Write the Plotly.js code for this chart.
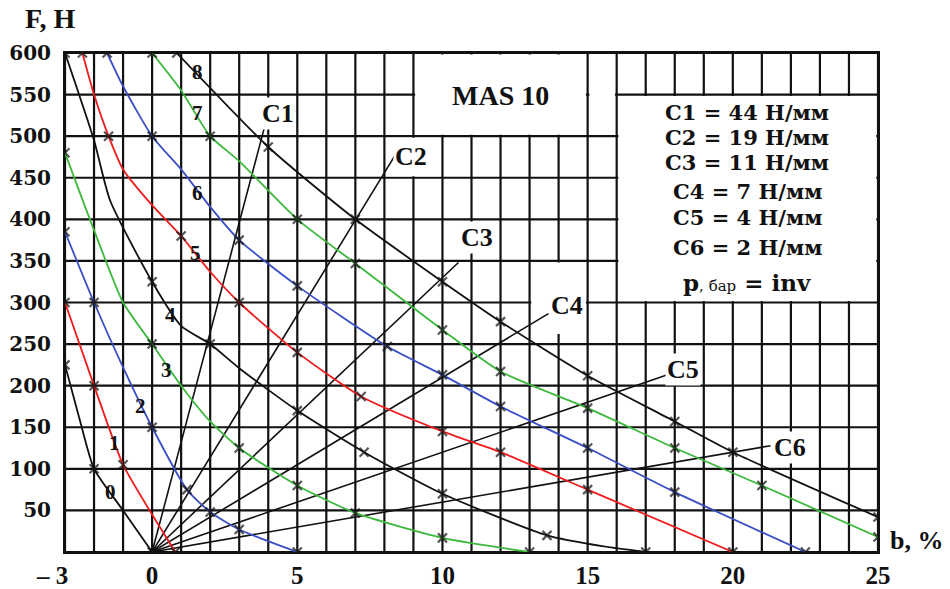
<!DOCTYPE html>
<html>
<head>
<meta charset="utf-8">
<script src="https://cdn.plot.ly/plotly-3.0.1.min.js"></script>
<style>
  html, body { margin: 0; padding: 0; background: #fff; }
  #chart { width: 950px; height: 589px; }
</style>
</head>
<body>
<div id="chart"></div>
<script>
// MAS 10 fluidic muscle: force F (N) against contraction b (%) for supply pressures 0…8 bar.
// *M arrays flag the measured points (1) that carry an "x" marker.
const p0X = [-3, -2.5, -2, -1, 0];
const p0Y = [225, 160, 100, 50, 0];
const p0M = [1, 0, 1, 0, 1];

const p1X = [-3, -2, -1, 0, 0.8];
const p1Y = [300, 200, 105, 45, 0];
const p1M = [1, 1, 1, 0, 1];

const p2X = [-3, -2, -1, 0, 1.2, 2, 3, 5];
const p2Y = [385, 300, 222, 150, 75, 48, 27, 0];
const p2M = [1, 1, 0, 1, 1, 1, 1, 1];

const p3X = [-3, -2, -1, 0, 1, 2, 3, 5, 7, 10, 13];
const p3Y = [480, 387, 300, 250, 200, 157, 125, 80, 47, 17, 0];
const p3M = [1, 0, 0, 1, 0, 0, 1, 1, 1, 1, 1];

const p4X = [-3, -2, -1.45, 0, 1, 2, 3, 5, 7.3, 10, 13.6, 15.5, 17];
const p4Y = [600, 495, 423, 325, 272, 250, 221, 170, 120, 70, 20, 7, 0];
const p4M = [1, 0, 0, 1, 0, 1, 0, 1, 1, 1, 1, 0, 1];

const p5X = [-2.4, -2, -1.5, -1, 0, 1, 2, 3, 5, 7.2, 10, 12, 15, 20];
const p5Y = [600, 550, 500, 460, 417, 380, 337, 300, 240, 187, 145, 120, 75, 0];
const p5M = [1, 0, 1, 0, 0, 1, 0, 1, 1, 1, 1, 1, 1, 1];

const p6X = [-1.55, -1, 0, 1, 2, 3, 5, 8.1, 10, 12, 15, 18, 22.5];
const p6Y = [600, 560, 500, 460, 415, 375, 320, 247, 213, 175, 125, 72, 0];
const p6M = [1, 0, 1, 0, 0, 1, 1, 1, 1, 1, 1, 1, 1];

const p7X = [0, 1, 2, 3, 5, 7, 10, 12, 15, 18, 21, 25];
const p7Y = [600, 555, 500, 470, 400, 347, 267, 217, 173, 125, 80, 18];
const p7M = [1, 0, 1, 0, 1, 1, 1, 1, 1, 1, 1, 1];

const p8X = [0.85, 4, 7, 10, 12, 15, 18, 20, 25];
const p8Y = [600, 487, 400, 325, 277, 212, 157, 120, 42];
const p8M = [1, 1, 1, 1, 1, 1, 1, 1, 1];

const pressureNames = ['0', '1', '2', '3', '4', '5', '6', '7', '8'];

// Spring load lines C1…C6 (N/mm) over a 300 mm working length, drawn from b = 0
const springNames = ['C1', 'C2', 'C3', 'C4', 'C5', 'C6'];
const springRate = [44, 19, 11, 7, 4, 2];
const springEndB = [3.95, 8.35, 10.55, 13.65, 17.7, 21.3];
const workingLength = 300;

// Axis ticks
const xTickVals = [-3, 0, 5, 10, 15, 20, 25];
const xTickText = ['\u2013\u00a03\u00a0\u00a0\u00a0\u00a0', '0', '5', '10', '15', '20', '25'];
const yTickVals = [50, 100, 150, 200, 250, 300, 350, 400, 450, 500, 550, 600];

// ---------------------------------------------------------------------------
const curves = [
  [p0X, p0Y, p0M], [p1X, p1Y, p1M], [p2X, p2Y, p2M], [p3X, p3Y, p3M],
  [p4X, p4Y, p4M], [p5X, p5Y, p5M], [p6X, p6Y, p6M], [p7X, p7Y, p7M],
  [p8X, p8Y, p8M]
];
const palette = ['#111111', '#ee1c1c', '#3a4fc4', '#3cb83c'];

const traces = [];

// spring lines first so the pressure curves sit on top
springRate.forEach((c, i) => {
  const k = c * workingLength / 100;      // N per % contraction
  traces.push({
    type: 'scatter', mode: 'lines',
    x: [0, springEndB[i]], y: [0, k * springEndB[i]],
    line: { color: '#111', width: 1.6 },
    hoverinfo: 'skip', showlegend: false
  });
});

curves.forEach(([xs, ys, ms], i) => {
  traces.push({
    type: 'scatter', mode: 'lines+markers', name: pressureNames[i],
    x: xs, y: ys,
    line: { color: palette[i % 4], width: 1.8, shape: 'spline', smoothing: 0.6 },
    marker: {
      symbol: 'x-thin', size: ms.map(f => f ? 9 : 0),
      color: '#111', line: { color: '#111', width: 2.2 }
    },
    showlegend: false
  });
});

// grid: every 1 % and every 50 N
const shapes = [];
const gridLine = { color: '#111', width: 2.2 };
for (let v = -3; v <= 25; v++) {
  shapes.push({ type: 'line', layer: 'below', xref: 'x', yref: 'y', x0: v, x1: v, y0: 0, y1: 600, line: gridLine });
}
for (let h = 0; h <= 600; h += 50) {
  shapes.push({ type: 'line', layer: 'below', xref: 'x', yref: 'y', x0: -3, x1: 25, y0: h, y1: h, line: gridLine });
}
// blank panels inside the grid (title panel, rate table, label cells)
function blank(x0, x1, y0, y1) {
  shapes.push({ type: 'rect', layer: 'below', xref: 'x', yref: 'y', x0, x1, y0, y1,
                fillcolor: '#fff', line: { width: 0 } });
}
blank(9.06, 14.94, 501.8, 598.2);
blank(15.06, 15.94, 501.8, 598.2);
blank(16.06, 24.94, 301.8, 548.2);
blank(8.06, 9.94, 451.8, 498.2);
blank(13.06, 14.94, 262, 348.2);

// annotations
const serifB = 'Liberation Serif';
const wide = 'DejaVu Serif';
const ann = [];

const numX = [-1.45, -1.28, -0.41, 0.5, 0.62, 1.48, 1.55, 1.55, 1.55];
const numY = [72, 131, 175, 219, 285, 360, 432, 528, 577];
pressureNames.forEach((t, i) => ann.push({
  x: numX[i], y: numY[i], xref: 'x', yref: 'y', text: t, showarrow: false,
  font: { family: serifB, size: 21, weight: 'bold', color: '#111' }
}));

const cLabX = [4.34, 8.93, 11.2, 14.28, 18.28, 21.97];
const cLabY = [527, 475, 378, 297, 219, 126];
springNames.forEach((t, i) => ann.push({
  x: cLabX[i], y: cLabY[i], xref: 'x', yref: 'y', text: t, showarrow: false,
  bgcolor: '#fff', borderpad: 1,
  font: { family: serifB, size: 26, weight: 'bold', color: '#111' }
}));

ann.push({ x: 12, y: 549, xref: 'x', yref: 'y', text: 'MAS 10', showarrow: false,
  font: { family: serifB, size: 28, weight: 'bold', color: '#111' } });

const tableY = [528, 498, 468, 434, 402, 366];
springNames.forEach((t, i) => ann.push({
  x: 20.5, y: tableY[i], xref: 'x', yref: 'y',
  text: t + ' = ' + springRate[i] + ' Н/мм', showarrow: false,
  font: { family: wide, size: 21, weight: 'bold', color: '#111' }
}));
ann.push({ x: 20.5, y: 324, xref: 'x', yref: 'y', showarrow: false,
  text: 'р<span style="font-size:15px;font-weight:normal">, бар</span> = inv',
  font: { family: wide, size: 23, weight: 'bold', color: '#111' } });

// axis names sit outside the plotting area
const L = 65, R = 878, T = 53, B = 552;
const px = v => (v - L) / (R - L);
const py = v => (B - v) / (B - T);
ann.push({ x: px(50), y: py(18), xref: 'paper', yref: 'paper', xanchor: 'center', yanchor: 'middle',
  text: 'F, Н', showarrow: false,
  font: { family: serifB, size: 28, weight: 'bold', color: '#111' } });
ann.push({ x: px(916), y: py(540), xref: 'paper', yref: 'paper', xanchor: 'center', yanchor: 'middle',
  text: 'b, %', showarrow: false,
  font: { family: serifB, size: 26, weight: 'bold', color: '#111' } });

const layout = {
  width: 950, height: 589,
  margin: { l: L, r: 950 - R, t: T, b: 589 - B, pad: 0 },
  paper_bgcolor: '#fff', plot_bgcolor: '#fff',
  showlegend: false,
  xaxis: {
    range: [-3, 25], showgrid: false, zeroline: false,
    showline: true, mirror: true, linecolor: '#111', linewidth: 2,
    tickmode: 'array', tickvals: xTickVals, ticktext: xTickText,
    ticks: '', ticklabelstandoff: 0,
    tickfont: { family: serifB, size: 25, weight: 'bold', color: '#111' }
  },
  yaxis: {
    range: [0, 600], showgrid: false, zeroline: false,
    showline: true, mirror: true, linecolor: '#111', linewidth: 2,
    tickmode: 'array', tickvals: yTickVals,
    ticks: '', ticklabelstandoff: 8,
    tickfont: { family: wide, size: 20, weight: 'bold', color: '#111' }
  },
  shapes: shapes,
  annotations: ann
};

Plotly.newPlot('chart', traces, layout, { staticPlot: true, displayModeBar: false });
</script>
</body>
</html>
